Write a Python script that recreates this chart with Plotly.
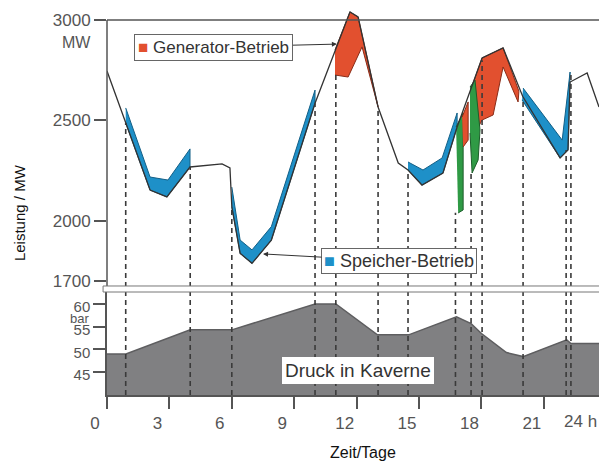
import plotly.graph_objects as go

# ---------------- data (hours, MW / bar) ----------------
load_h = [0, 0.9, 2.07, 2.88, 3.99, 5.53, 5.91, 6.0, 6.4, 6.97, 7.9, 10.0, 10.96, 11.68, 12.07,
          13.03, 14.0, 14.47, 15.14, 16.15, 16.83, 18.03, 19.04, 19.98, 21.78, 22.16, 22.26, 23.08, 23.65]
load_mw = [2746, 2490, 2153, 2119, 2268, 2283, 2263, 2070, 1838, 1788, 1904, 2585, 2851, 3040, 3015,
           2567, 2288, 2253, 2178, 2238, 2467, 2811, 2861, 2620, 2313, 2353, 2691, 2736, 2567]

blue1_h = [0.9, 2.07, 2.93, 3.99, 3.99, 2.88, 2.07, 0.9]
blue1_mw = [2562, 2218, 2203, 2358, 2268, 2119, 2153, 2487]
blue2_h = [6.0, 6.4, 6.97, 7.9, 10.0, 10.0, 7.9, 6.97, 6.4, 6.0]
blue2_mw = [2168, 1904, 1855, 1971, 2651, 2585, 1904, 1788, 1838, 2070]
blue3_h = [14.47, 15.19, 16.11, 16.83, 16.83, 16.15, 15.14, 14.47]
blue3_mw = [2293, 2253, 2313, 2537, 2467, 2238, 2178, 2253]
blue4_h = [20.0, 21.88, 22.26, 22.16, 21.78, 19.95]
blue4_mw = [2661, 2402, 2741, 2353, 2313, 2602]

red1_h = [10.96, 11.68, 12.07, 13.03, 12.26, 11.59, 10.96]
red1_mw = [2851, 3040, 3015, 2567, 2866, 2716, 2726]
red2_h = [17.07, 17.36, 17.36, 17.12]
red2_mw = [2517, 2592, 2402, 2368]
red3_h = [17.6, 18.03, 19.04, 19.8, 19.76, 19.04, 18.56, 18.03, 17.6]
red3_mw = [2686, 2811, 2861, 2645, 2592, 2766, 2527, 2502, 2417]

green1_h = [16.78, 17.12, 17.12, 16.88]
green1_mw = [2467, 2537, 2054, 2039]
green2_h = [17.45, 17.69, 17.93, 17.84, 17.55, 17.45]
green2_mw = [2666, 2701, 2452, 2303, 2238, 2437]

press_h = [0, 0.91, 4.0, 6.0, 10.0, 11.0, 13.0, 14.5, 16.8, 17.5, 18.0, 19.2, 20.0, 22.1, 22.3, 24.0]
press_bar = [49.0, 49.0, 54.3, 54.3, 60.0, 60.0, 53.2, 53.2, 57.2, 55.7, 53.5, 49.3, 48.4, 52.1, 51.3, 51.3]

dash_h = [0.9, 4.0, 6.0, 10.0, 11.0, 13.03, 14.47, 16.75, 17.5, 18.03, 20.0, 22.07, 22.3]
dash_top_mw = [2487, 2268, 2070, 2585, 2726, 2567, 2253, 2040, 2238, 2800, 2602, 2353, 2741]

x_ticks = [0, 3, 6, 9, 12, 15, 18, 21]
mw_ticks = [1700, 2000, 2500, 3000]
bar_ticks = [45, 50, 55, 60]

# ---------------- styling ----------------
BLUE, BLUE_E = "#1e90c8", "#135f86"
RED, RED_E = "#e2502f", "#8a2c18"
GREEN, GREEN_E = "#2f9a45", "#1c5e2a"
AX = "#555555"
FONT = "Liberation Sans, Arial, sans-serif"

Y_RANGE = [1670.3, 3074.7]
Y2_RANGE = [39.93, 62.87]

fig = go.Figure()

# pressure (bottom)
fig.add_trace(go.Scatter(x=press_h, y=press_bar, xaxis="x", yaxis="y2", mode="lines",
                         line=dict(color="#5e5e60", width=1.5), fill="tozeroy",
                         fillcolor="#808082", hoverinfo="skip"))

def band(h, mw, fc, ec):
    fig.add_trace(go.Scatter(x=h, y=mw, xaxis="x", yaxis="y", mode="lines", fill="toself",
                             fillcolor=fc, line=dict(color=ec, width=1), hoverinfo="skip"))

band(blue1_h, blue1_mw, BLUE, BLUE_E)
band(blue2_h, blue2_mw, BLUE, BLUE_E)
band(blue3_h, blue3_mw, BLUE, BLUE_E)
band(blue4_h, blue4_mw, BLUE, BLUE_E)
band(red1_h, red1_mw, RED, RED_E)
band(red3_h, red3_mw, RED, RED_E)
band(green1_h, green1_mw, GREEN, GREEN_E)
band(green2_h, green2_mw, GREEN, GREEN_E)
band(red2_h, red2_mw, RED, RED_E)

fig.add_trace(go.Scatter(x=load_h, y=load_mw, xaxis="x", yaxis="y", mode="lines",
                         line=dict(color="#333333", width=1.3), hoverinfo="skip"))

shapes = []
# dashed guide lines
for h, top in zip(dash_h, dash_top_mw):
    shapes.append(dict(type="line", xref="x", yref="y", x0=h, x1=h, y0=Y_RANGE[0], y1=top,
                       line=dict(color="#3a3a3a", width=1.6, dash="5px,4px"), layer="above"))
    shapes.append(dict(type="line", xref="x", yref="y2 domain", x0=h, x1=h, y0=0, y1=1,
                       line=dict(color="#3a3a3a", width=1.6, dash="5px,4px"), layer="above"))
# top frame line at 3000 and left axis line of the upper panel
shapes.append(dict(type="line", xref="x domain", yref="y", x0=0, x1=1, y0=3000, y1=3000,
                   line=dict(color=AX, width=1.5)))
shapes.append(dict(type="line", xref="x domain", yref="y", x0=0, x1=0, y0=Y_RANGE[0], y1=3000,
                   line=dict(color=AX, width=1.5)))
# axis break marker
shapes.append(dict(type="rect", xref="paper", yref="paper", x0=-0.008, x1=1.01, y0=0.2641, y1=0.2795,
                   fillcolor="white", line=dict(color="#777777", width=1), layer="above"))

annotations = [
    dict(x=11.05, y=2880, xref="x", yref="y", ax=-123, ay=3, axref="pixel", ayref="pixel",
         text="<span style='color:%s'>■</span> Generator-Betrieb" % RED, showarrow=True,
         arrowhead=2, arrowsize=1, arrowwidth=1, arrowcolor="#333333",
         bordercolor="#666666", borderwidth=1, borderpad=3, bgcolor="white",
         font=dict(family=FONT, size=17, color="#333333")),
    dict(x=7.5, y=1835, xref="x", yref="y", ax=136, ay=7.5, axref="pixel", ayref="pixel",
         text="<span style='color:%s'>■</span> Speicher-Betrieb" % BLUE, showarrow=True,
         arrowhead=2, arrowsize=1, arrowwidth=1, arrowcolor="#333333",
         bordercolor="#666666", borderwidth=1, borderpad=2, bgcolor="white",
         font=dict(family=FONT, size=18, color="#333333")),
    dict(x=12.07, y=45.44, xref="x", yref="y2", text="Druck in Kaverne", showarrow=False,
         bgcolor="white", bordercolor="white", borderwidth=1, borderpad=2,
         font=dict(family=FONT, size=19, color="#333333")),
    dict(x=0, xref="paper", y=3000, yref="y", text="MW", showarrow=False, xanchor="right",
         xshift=-14, yshift=-22, font=dict(family=FONT, size=16, color=AX)),
    dict(x=0, xref="paper", y=60, yref="y2", text="bar", showarrow=False, xanchor="right",
         xshift=-16, yshift=-14, font=dict(family=FONT, size=13, color=AX)),
    dict(x=1, xref="paper", y=-0.0667, yref="paper", text="24 h", showarrow=False,
         xanchor="right", yanchor="middle", font=dict(family=FONT, size=17, color=AX)),
    dict(x=0.52, xref="paper", y=-0.1487, yref="paper", text="Zeit/Tage", showarrow=False,
         xanchor="center", yanchor="middle", font=dict(family=FONT, size=16, color="#111111")),
    dict(x=-0.1789, xref="paper", y=0.469, yref="paper", text="Leistung / MW", showarrow=False,
         textangle=-90, xanchor="center", yanchor="middle",
         font=dict(family=FONT, size=15, color="#111111")),
]

fig.update_layout(
    width=599, height=464, margin=dict(l=107, r=0, t=5, b=69),
    plot_bgcolor="white", paper_bgcolor="white", showlegend=False,
    font=dict(family=FONT),
    xaxis=dict(domain=[0, 1], range=[0, 23.65], anchor="y2", tickvals=x_ticks,
               ticks="outside", ticklen=12, tickwidth=1.5, tickcolor=AX,
               showline=True, linecolor=AX, linewidth=1.5, showgrid=False, zeroline=False,
               tickfont=dict(family=FONT, size=17, color=AX), ticklabelshift=-12),
    yaxis=dict(domain=[0.27692, 1], range=Y_RANGE, anchor="x", tickvals=mw_ticks,
               ticks="outside", ticklen=12, tickwidth=1.5, tickcolor=AX,
               showline=False, showgrid=False, zeroline=False,
               tickfont=dict(family=FONT, size=17, color=AX)),
    yaxis2=dict(domain=[0, 0.26667], range=Y2_RANGE, anchor="x", tickvals=bar_ticks,
                ticks="outside", ticklen=12, tickwidth=1.5, tickcolor=AX,
                showline=True, linecolor=AX, linewidth=1.5, showgrid=False, zeroline=False,
                tickfont=dict(family=FONT, size=15, color=AX), ticklabelshift=3),
    shapes=shapes, annotations=annotations,
)

fig.write_html("out.html", config={"displayModeBar": False},
               post_script="document.body.style.margin='0';")
